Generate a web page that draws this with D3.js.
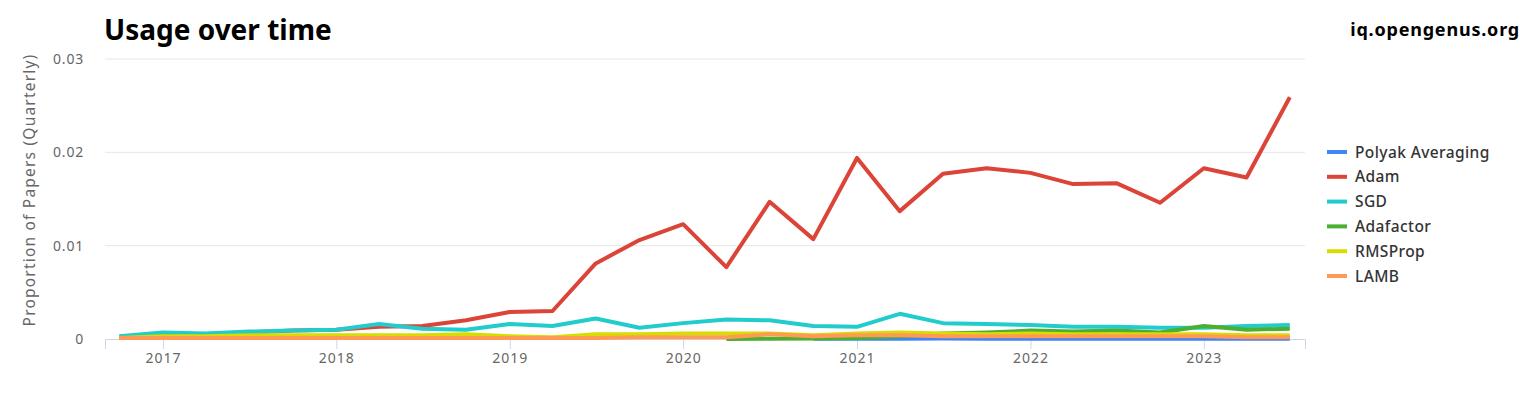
<!DOCTYPE html>
<html>
<head>
<meta charset="utf-8">
<script src="https://cdn.jsdelivr.net/npm/d3@7"></script>
<style>
  body { margin: 0; background: #fff; font-family: "Noto Sans", "Open Sans", sans-serif; }
</style>
</head>
<body>
<script>
var width = 1535;
var height = 393;

// quarters, 2016 Q4 .. 2023 Q3
var quarters = ["2016-10", "2017-01", "2017-04", "2017-07", "2017-10", "2018-01", "2018-04", "2018-07",
                "2018-10", "2019-01", "2019-04", "2019-07", "2019-10", "2020-01", "2020-04", "2020-07",
                "2020-10", "2021-01", "2021-04", "2021-07", "2021-10", "2022-01", "2022-04", "2022-07",
                "2022-10", "2023-01", "2023-04", "2023-07"];

var polyak = [null, null, null, null, null, null, null, null,
              null, null, null, null, null, null, null, null,
              0.00003, 0.00004, 0.00004, 0.00005, 0.00004, 0.00003, 0.00003, 0.00002,
              0.00002, 0.00002, 0.00002, 0.00002];
var adam = [0.0001, 0.0004, 0.0005, 0.0007, 0.0009, 0.0010, 0.0013, 0.0014,
            0.0020, 0.0029, 0.0030, 0.0081, 0.0106, 0.0123, 0.0077, 0.0147,
            0.0107, 0.0194, 0.0137, 0.0177, 0.0183, 0.0178, 0.0166, 0.0167,
            0.0146, 0.0183, 0.0173, 0.0259];
var sgd = [0.0003, 0.0007, 0.0006, 0.0008, 0.0009, 0.0010, 0.0016, 0.0011,
           0.0010, 0.0016, 0.0014, 0.0022, 0.0012, 0.0017, 0.0021, 0.0020,
           0.0014, 0.0013, 0.0027, 0.0017, 0.0016, 0.0015, 0.0013, 0.0013,
           0.0012, 0.0012, 0.0014, 0.0015];
var adafactor = [null, null, null, null, null, null, null, null,
                 null, null, null, null, null, null, 0.0000, 0.00002,
                 0.00005, 0.0001, 0.0003, 0.0006, 0.0007, 0.0009, 0.0008, 0.0009,
                 0.0007, 0.0014, 0.0010, 0.0011];
var rmsprop = [0.0001, 0.0003, 0.0003, 0.0004, 0.0004, 0.0004, 0.0004, 0.0004,
               0.0005, 0.0003, 0.0002, 0.0005, 0.0005, 0.0006, 0.0006, 0.0006,
               0.0004, 0.0006, 0.0007, 0.0006, 0.0005, 0.0006, 0.0005, 0.0005,
               0.0005, 0.0005, 0.0004, 0.0004];
var lamb = [0.0001, 0.0001, 0.0001, 0.0001, 0.0001, 0.0001, 0.0001, 0.0001,
            0.0001, 0.0001, 0.0001, 0.0001, 0.0002, 0.0002, 0.0002, 0.0005,
            0.0003, 0.0004, 0.0004, 0.0003, 0.0003, 0.0003, 0.0003, 0.0003,
            0.0003, 0.0003, 0.0002, 0.0002];

var seriesNames = ["Polyak Averaging", "Adam", "SGD", "Adafactor", "RMSProp", "LAMB"];
var seriesColors = ["#4285f4", "#db4437", "#22cbcc", "#4caf32", "#d8dc00", "#ff9955"];
var seriesValues = [polyak, adam, sgd, adafactor, rmsprop, lamb];

var yTicks = [0, 0.01, 0.02, 0.03];
var xTickYears = [2017, 2018, 2019, 2020, 2021, 2022, 2023];

var margin = { left: 105, right: 230, top: 59, bottom: 54 };
var parseQ = d3.timeParse("%Y-%m");

var svg = d3.select("body")
            .append("svg")
            .attr("width", width)
            .attr("height", height);

var x = d3.scaleTime()
          .domain([new Date(2016, 8, 1), new Date(2023, 7, 2)])
          .range([margin.left, width - margin.right]);

var y = d3.scaleLinear()
          .domain([0, 0.03])
          .range([height - margin.bottom, margin.top]);

// gridlines
svg.append("g")
   .selectAll("line")
   .data(yTicks.slice(1))
   .enter()
   .append("line")
   .attr("x1", margin.left)
   .attr("x2", width - margin.right)
   .attr("y1", function(d) { return y(d); })
   .attr("y2", function(d) { return y(d); })
   .attr("stroke", "#e6e6e6")
   .attr("stroke-width", 1);

// y axis labels
var yAxis = d3.axisLeft(y)
              .tickValues(yTicks)
              .tickSize(0)
              .tickPadding(21)
              .tickFormat(function(d) { return d === 0 ? "0" : d3.format(".2f")(d); });

var gy = svg.append("g")
            .attr("transform", "translate(" + margin.left + ",0)")
            .call(yAxis);
gy.select(".domain").remove();
gy.selectAll("text")
  .attr("fill", "#666")
  .style("font-size", "14px")
  .style("letter-spacing", "0.8px")
  .style("font-family", "'Noto Sans', sans-serif");

// x axis
var xAxis = d3.axisBottom(x)
              .tickValues(xTickYears.map(function(yr) { return new Date(yr, 0, 1); }))
              .tickSize(10)
              .tickPadding(4)
              .tickFormat(d3.timeFormat("%Y"));

var gx = svg.append("g")
            .attr("transform", "translate(0," + y(0) + ")")
            .call(xAxis);
gx.select(".domain").attr("stroke", "#ccd6eb");
gx.selectAll(".tick line").attr("stroke", "#ccd6eb");
gx.selectAll("text")
  .attr("fill", "#666")
  .style("font-size", "14px")
  .style("letter-spacing", "1px")
  .style("font-family", "'Noto Sans', sans-serif");

// lines
var line = d3.line()
             .defined(function(d) { return d.v !== null; })
             .x(function(d) { return x(d.t); })
             .y(function(d) { return y(d.v); });

seriesValues.forEach(function(vals, i) {
  var pts = vals.map(function(v, j) { return { t: parseQ(quarters[j]), v: v }; });
  svg.append("path")
     .datum(pts)
     .attr("d", line)
     .attr("fill", "none")
     .attr("stroke", seriesColors[i])
     .attr("stroke-width", 4)
     .attr("stroke-linejoin", "round");
});

// title
svg.append("text")
   .text("Usage over time")
   .attr("x", 104)
   .attr("y", 40)
   .attr("fill", "#000")
   .style("font-size", "28px")
   .style("font-weight", "bold")
   .style("font-family", "'Noto Sans', sans-serif");

svg.append("text")
   .text("iq.opengenus.org")
   .attr("x", 1520)
   .attr("y", 36)
   .attr("text-anchor", "end")
   .attr("fill", "#000")
   .style("font-size", "18px")
   .style("letter-spacing", "0.8px")
   .style("font-weight", "bold")
   .style("font-family", "'Noto Sans', sans-serif");

// y axis title
svg.append("text")
   .text("Proportion of Papers (Quarterly)")
   .attr("transform", "translate(35," + 190 + ") rotate(-90)")
   .attr("text-anchor", "middle")
   .attr("fill", "#666")
   .style("font-size", "15.5px")
   .style("letter-spacing", "1.2px")
   .style("font-family", "'Noto Sans', sans-serif");

// legend
var legend = svg.append("g")
                .selectAll("g")
                .data(seriesNames)
                .enter()
                .append("g")
                .attr("transform", function(d, i) { return "translate(1327," + (152 + i * 24.8) + ")"; });

legend.append("line")
      .attr("x1", 0)
      .attr("x2", 20)
      .attr("stroke", function(d, i) { return seriesColors[i]; })
      .attr("stroke-width", 4);

legend.append("text")
      .text(function(d) { return d; })
      .attr("x", 28)
      .attr("y", 5.5)
      .attr("fill", "#333")
      .style("font-size", "15.5px")
      .style("letter-spacing", "0.4px")
      .style("font-weight", "500")
      .style("font-family", "'Noto Sans', sans-serif");
</script>
</body>
</html>
